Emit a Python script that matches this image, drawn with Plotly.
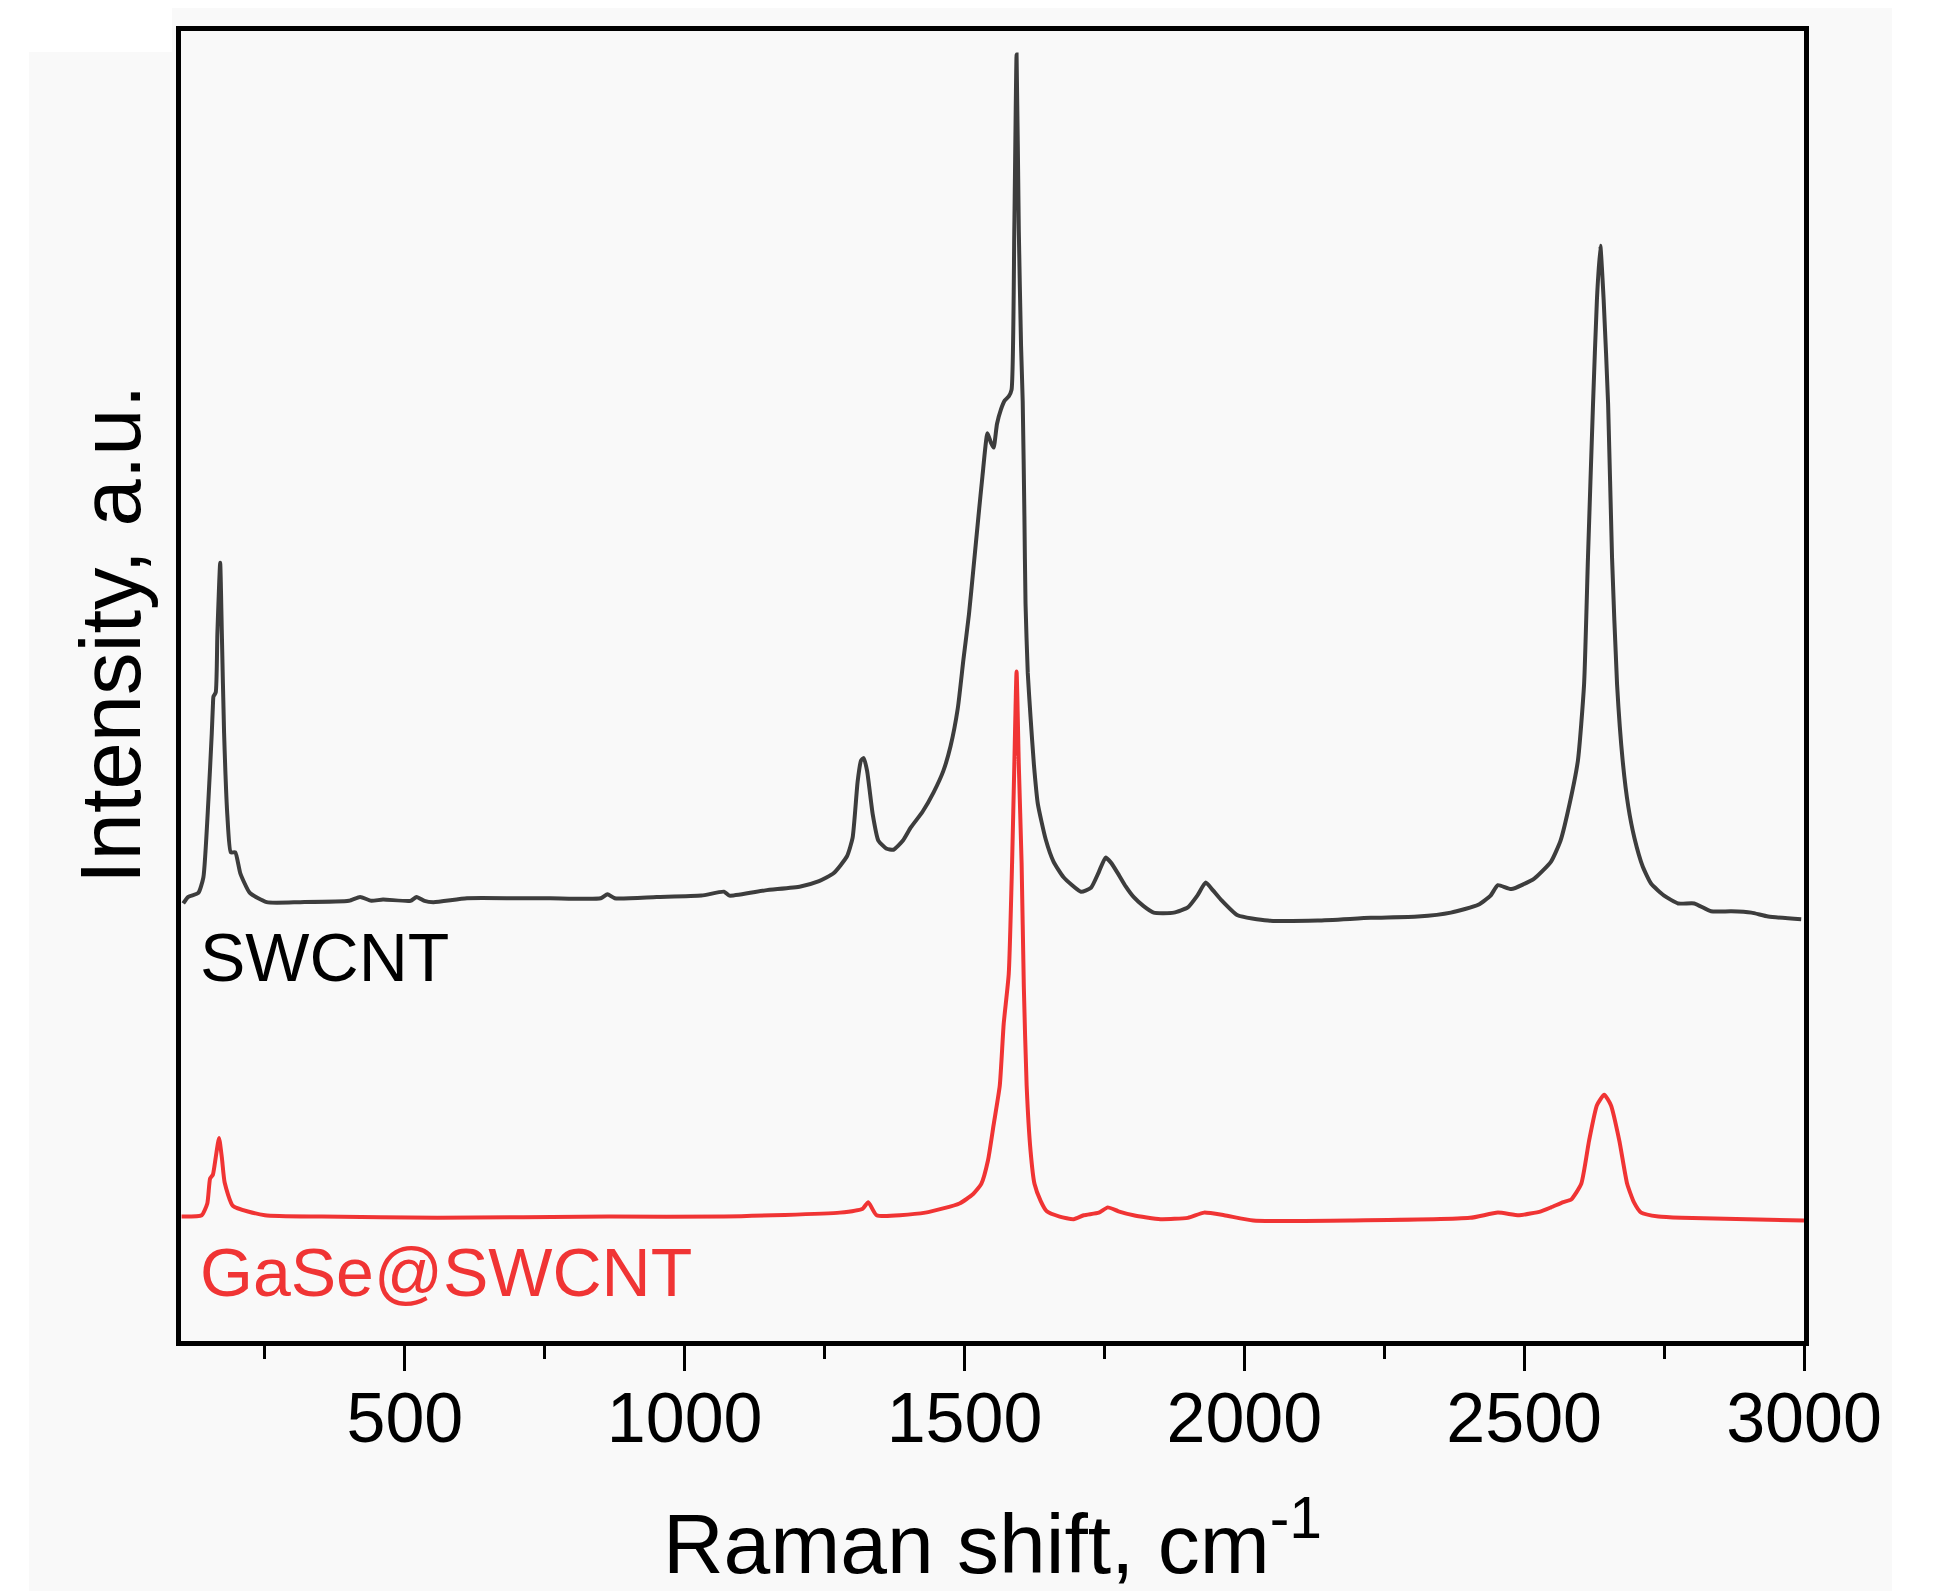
import plotly.graph_objects as go

# ---- data (Raman shift in cm-1, intensity in a.u.) ----
swcnt_x = [104, 113, 131, 140, 149, 155, 157, 158, 162, 165, 170, 173, 177, 183, 189, 197, 206, 223, 253,
           313, 400, 420, 440, 461, 510, 521, 535, 551, 611, 700, 760, 850, 862, 875, 950, 1030, 1070,
           1080, 1144, 1207, 1240, 1266, 1290, 1300, 1309, 1315, 1320, 1326, 1336, 1346, 1360, 1373, 1390,
           1404, 1425, 1445, 1462, 1475, 1488, 1498, 1508, 1516, 1525, 1532, 1541, 1547, 1552, 1558, 1565,
           1572, 1579, 1584, 1589, 1593, 1597, 1601, 1604, 1607, 1609, 1613, 1618, 1624, 1631, 1645, 1659,
           1677, 1708, 1726, 1740, 1752, 1762, 1774, 1788, 1802, 1820, 1838, 1874, 1899, 1916, 1931, 1944,
           1958, 1988, 2042, 2131, 2226, 2310, 2369, 2418, 2440, 2453, 2477, 2518, 2548, 2565, 2578, 2596,
           2607, 2614, 2623, 2630, 2636, 2642, 2650, 2657, 2666, 2676, 2686, 2697, 2712, 2727, 2750, 2775,
           2804, 2834, 2870, 2906, 2936, 2995]
swcnt_y = [33.4, 33.9, 34.2, 35.4, 41.3, 46.4, 48.5, 49.2, 49.5, 54.0, 59.4, 54.0, 46.4, 40.0, 37.3, 37.3,
           35.7, 34.2, 33.5, 33.5, 33.6, 33.9, 33.6, 33.7, 33.6, 33.9, 33.6, 33.5, 33.8, 33.8, 33.8, 33.8,
           34.1, 33.8, 33.9, 34.0, 34.3, 34.0, 34.4, 34.7, 35.1, 35.7, 37.0, 38.4, 42.7, 44.3, 44.5, 43.5,
           40.2, 38.2, 37.6, 37.5, 38.2, 39.2, 40.4, 41.9, 43.5, 45.4, 48.3, 52.0, 55.5, 59.0, 63.0, 66.0,
           69.3, 68.6, 68.2, 70.0, 71.1, 71.8, 72.1, 72.6, 85.0, 98.2, 84.8, 76.0, 71.7, 63.0, 56.3, 51.0,
           47.6, 44.0, 41.0, 38.3, 36.6, 35.4, 34.3, 34.6, 35.8, 36.9, 36.5, 35.7, 34.7, 33.9, 33.2, 32.7,
           32.7, 33.1, 34.0, 35.0, 34.4, 33.7, 32.5, 32.1, 32.1, 32.3, 32.4, 32.7, 33.3, 34.0, 34.8, 34.5,
           35.3, 36.6, 38.2, 40.4, 44.3, 50.1, 59.8, 71.5, 79.5, 83.6, 79.5, 71.5, 59.8, 50.1, 44.3, 40.8,
           38.4, 36.2, 34.9, 34.0, 33.4, 33.4, 32.8, 32.8, 32.7, 32.4, 32.2]

gase_x = [101, 137, 147, 152, 157, 162, 168, 173, 178, 193, 250, 352, 558, 865, 1071, 1277, 1318, 1328,
          1343, 1430, 1491, 1515, 1530, 1542, 1552, 1563, 1570, 1579, 1585, 1589, 1593, 1597, 1602, 1606,
          1611, 1618, 1625, 1636, 1647, 1670, 1695, 1713, 1740, 1756, 1775, 1802, 1850, 1899, 1928, 1964,
          2016, 2194, 2403, 2453, 2491, 2530, 2548, 2570, 2584, 2602, 2616, 2630, 2643, 2655, 2670, 2684,
          2696, 2709, 2740, 2781, 3000]
gase_y = [9.5, 9.6, 10.5, 12.4, 12.7, 14.0, 15.5, 14.0, 12.1, 10.3, 9.6, 9.5, 9.4, 9.5, 9.5, 9.8, 10.1, 10.6,
          9.6, 9.8, 10.5, 11.2, 12.0, 13.8, 16.5, 19.5, 24.2, 28.0, 36.5, 44.0, 51.1, 44.0, 36.5, 27.0,
          19.5, 14.5, 12.0, 10.7, 9.9, 9.5, 9.3, 9.6, 9.8, 10.2, 9.9, 9.6, 9.3, 9.4, 9.8, 9.6,
          9.2, 9.2, 9.4, 9.8, 9.6, 9.9, 10.2, 10.6, 10.8, 12.0, 15.3, 18.0, 18.8, 18.0, 15.3, 12.0,
          10.6, 9.8, 9.5, 9.4, 9.2]

x_ticks = [500, 1000, 1500, 2000, 2500, 3000]
x_tick_labels = ["500", "1000", "1500", "2000", "2500", "3000"]
series_names = ["SWCNT", "GaSe@SWCNT"]
series_colors = ["#3d3d3d", "#f03434"]

FONT = "Liberation Sans, Arial, sans-serif"
PAGE_W, PAGE_H = 1934, 1591
OFF = 8  # default body margin of the html page
L, R, T, B = 181, 1804, 31, 1341  # plot area in page pixels

fig = go.Figure()
fig.add_trace(go.Scatter(x=swcnt_x, y=swcnt_y, mode="lines", name=series_names[0],
                         line=dict(color=series_colors[0], width=4, shape="spline", smoothing=0.5)))
fig.add_trace(go.Scatter(x=gase_x, y=gase_y, mode="lines", name=series_names[1],
                         line=dict(color=series_colors[1], width=4, shape="spline", smoothing=0.5)))


def px_x(p):
    return (p - L) / (R - L)


def px_y(p):
    return (B - p) / (B - T)


# white margins of the original screenshot
shapes = []
for (x0, y0, x1, y1) in [(OFF, OFF, 29, PAGE_H), (OFF, OFF, 172, 52), (1892, OFF, PAGE_W, PAGE_H)]:
    shapes.append(dict(type="rect", xref="paper", yref="paper", x0=px_x(x0), x1=px_x(x1),
                       y0=px_y(y1), y1=px_y(y0), fillcolor="white", line=dict(width=0), layer="below"))

annotations = [
    dict(text="Intensity, a.u.", xref="paper", yref="paper", x=px_x(110), y=px_y(635),
         textangle=-90, showarrow=False, xanchor="center", yanchor="middle",
         font=dict(family=FONT, size=85, color="black")),
    dict(text=series_names[0], xref="x", yref="y", x=131, y=29.3, showarrow=False,
         xanchor="left", yanchor="middle", font=dict(family=FONT, size=68, color="black")),
    dict(text=series_names[1], xref="x", yref="y", x=131, y=5.3, showarrow=False,
         xanchor="left", yanchor="middle", font=dict(family=FONT, size=68, color=series_colors[1])),
]

fig.update_layout(
    width=PAGE_W - OFF, height=PAGE_H - OFF,
    margin=dict(l=L - OFF, r=PAGE_W - R, t=T - OFF, b=PAGE_H - B, pad=0),
    paper_bgcolor="#f9f9f9", plot_bgcolor="#f9f9f9",
    showlegend=False,
    shapes=shapes,
    annotations=annotations,
    xaxis=dict(range=[100, 3000], tickmode="array", tickvals=x_ticks, ticktext=x_tick_labels,
               ticks="outside", ticklen=25, tickwidth=3, tickcolor="black", ticklabelstandoff=-13,
               minor=dict(dtick=250, tick0=0, ticks="outside", ticklen=13, tickwidth=3, tickcolor="black"),
               showline=True, linecolor="black", linewidth=4.5, mirror=True, showgrid=False, zeroline=False,
               tickfont=dict(family=FONT, size=70, color="black"),
               title=dict(text="Raman shift, cm<sup>-1</sup>", font=dict(family=FONT, size=84, color="black"),
                          standoff=64)),
    yaxis=dict(range=[0, 100], showticklabels=False, ticks="", showline=True, linecolor="black",
               linewidth=4.5, mirror=True, showgrid=False, zeroline=False),
)

fig.write_html("out.html")
